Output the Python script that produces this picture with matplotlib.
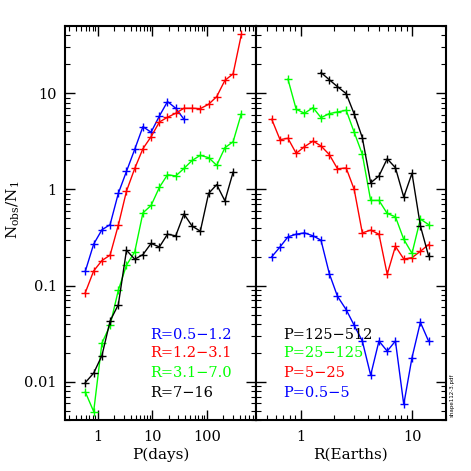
import matplotlib
matplotlib.use("Agg")
import matplotlib.pyplot as plt
from matplotlib.ticker import LogLocator, NullFormatter, FixedLocator, FixedFormatter

plt.rcParams['font.family'] = ['DejaVu Serif']
plt.rcParams['mathtext.fontset'] = 'dejavuserif'

# ---- Left panel: N_obs/N_1 vs period, by radius bin ----
period = [0.59, 0.84, 1.19, 1.68, 2.38, 3.36, 4.76, 6.73, 9.5, 13.5,
          19.0, 26.9, 38.1, 53.8, 76.1, 108, 152, 215, 304, 431]
r_05_12 = [0.141, 0.27, 0.38, 0.43, 0.91, 1.54, 2.61, 4.49, 3.93, 5.8,
           8.18, 6.98, 5.36]
r_12_31 = [0.0845, 0.142, 0.182, 0.207, 0.425, 0.96, 1.65, 2.65, 3.53, 5.02,
           5.62, 6.19, 6.98, 6.98, 6.92, 7.67, 9.22, 13.6, 15.9, 40.8]
r_31_70 = [0.0078, 0.0049, 0.0252, 0.0386, 0.0893, 0.163, 0.224, 0.57, 0.68, 1.05,
           1.42, 1.38, 1.65, 2.0, 2.26, 2.14, 1.78, 2.71, 3.13, 6.14]
r_7_16 = [0.0098, 0.0123, 0.0187, 0.0428, 0.0634, 0.233, 0.188, 0.21, 0.274, 0.252,
          0.342, 0.329, 0.555, 0.415, 0.368, 0.908, 1.12, 0.76, 1.51]

# ---- Right panel: N_obs/N_1 vs radius, by period bin ----
radius = [0.553, 0.656, 0.772, 0.915, 1.085, 1.295, 1.525, 1.81, 2.14, 2.56,
          3.02, 3.57, 4.24, 5.03, 5.96, 7.06, 8.38, 9.93, 11.8, 13.96]
p_05_5 = [0.199, 0.252, 0.321, 0.342, 0.353, 0.329, 0.296, 0.133, 0.0774, 0.0562,
          0.0386, 0.0265, 0.0117, 0.0265, 0.0208, 0.0265, 0.0058, 0.0178, 0.0415, 0.0265]
p_5_25 = [5.36, 3.29, 3.4, 2.37, 2.78, 3.18, 2.83, 2.3, 1.64, 1.67,
          1.0, 0.353, 0.377, 0.342, 0.131, 0.256, 0.189, 0.195, 0.227, 0.267]
p_25_125 = [14.0, 6.81, 6.19, 7.08, 5.57, 6.14, 6.38, 6.65, 3.93, 2.32,
            0.768, 0.768, 0.562, 0.519, 0.303, 0.216, 0.491, 0.431]
p_125_512 = [16.4, 13.8, 11.7, 9.91, 6.09, 3.45, 1.17, 1.38, 2.08, 1.68,
             0.832, 1.47, 0.418, 0.204]

left_labels = ["R=0.5−1.2", "R=1.2−3.1", "R=3.1−7.0", "R=7−16"]
right_labels = ["P=125−512", "P=25−125", "P=5−25", "P=0.5−5"]
yticks = [0.01, 0.1, 1, 10]
yticklabels = ["0.01", "0.1", "1", "10"]

GREEN = '#00ff00'
W = H = 471
fig = plt.figure(figsize=(4.71, 4.71), dpi=100)
x0, xm, x1 = 65 / W, 256 / W, 446 / W
yb, yt = 1 - 420 / H, 1 - 26 / H
axL = fig.add_axes([x0, yb, xm - x0, yt - yb])
axR = fig.add_axes([xm, yb, x1 - xm, yt - yb])

line_kw = dict(lw=1.0, marker='+', ms=5.5, mew=1.0)

n = len
axL.plot(period[:n(r_05_12)], r_05_12, color='blue', **line_kw)
axL.plot(period[:n(r_12_31)], r_12_31, color='red', **line_kw)
axL.plot(period[:n(r_31_70)], r_31_70, color=GREEN, **line_kw)
axL.plot(period[:n(r_7_16)], r_7_16, color='black', **line_kw)

axR.plot(radius[:n(p_05_5)], p_05_5, color='blue', **line_kw)
axR.plot(radius[:n(p_5_25)], p_5_25, color='red', **line_kw)
axR.plot(radius[2:2 + n(p_25_125)], p_25_125, color=GREEN, **line_kw)
axR.plot(radius[6:6 + n(p_125_512)], p_125_512, color='black', **line_kw)

for ax in (axL, axR):
    ax.set_xscale('log')
    ax.set_yscale('log')
    ax.set_ylim(0.004, 50)
    ax.tick_params(which='both', direction='in', top=True, right=True, labelsize=10.5)
    ax.tick_params(which='major', length=7, width=1.0)
    ax.tick_params(which='minor', length=3.5, width=0.8)
    ax.tick_params(axis='x', pad=7)
    ax.yaxis.set_major_locator(FixedLocator(yticks))
    ax.yaxis.set_minor_locator(LogLocator(base=10, subs=range(2, 10)))
    ax.yaxis.set_minor_formatter(NullFormatter())
    for s in ax.spines.values():
        s.set_linewidth(1.5)

axL.set_xlim(0.25, 800)
axL.xaxis.set_major_locator(FixedLocator([1, 10, 100]))
axL.xaxis.set_major_formatter(FixedFormatter(["1", "10", "100"]))
axL.xaxis.set_minor_locator(LogLocator(base=10, subs=range(2, 10)))
axL.xaxis.set_minor_formatter(NullFormatter())
axL.yaxis.set_major_formatter(FixedFormatter(yticklabels))
axL.tick_params(axis='y', pad=6)

axR.set_xlim(0.4, 20)
axR.xaxis.set_major_locator(FixedLocator([1, 10]))
axR.xaxis.set_major_formatter(FixedFormatter(["1", "10"]))
axR.xaxis.set_minor_locator(LogLocator(base=10, subs=range(2, 10)))
axR.xaxis.set_minor_formatter(NullFormatter())
axR.tick_params(axis='y', labelleft=False)

axL.set_xlabel("P(days)", fontsize=11, labelpad=3)
axR.set_xlabel("R(Earths)", fontsize=11, labelpad=3)
fig.text(13 / W, 1 - 210 / H, r"$\mathrm{N_{obs}/N_1}$", rotation=90,
         ha='center', va='center', fontsize=11)

leg_y = [335, 353, 373, 393]
left_colors = ['blue', 'red', GREEN, 'black']
right_colors = ['black', GREEN, 'red', 'blue']
for lab, c, yy in zip(left_labels, left_colors, leg_y):
    fig.text(150 / W, 1 - yy / H, lab, color=c, fontsize=10.5, ha='left', va='center')
for lab, c, yy in zip(right_labels, right_colors, leg_y):
    fig.text(283 / W, 1 - yy / H, lab, color=c, fontsize=10.5, ha='left', va='center')

fig.text(452 / W, 1 - 395 / H, "shape112-3.pdf", rotation=90, fontsize=4,
         ha='center', va='center', family='DejaVu Sans')

fig.savefig("out.png", dpi=100)
